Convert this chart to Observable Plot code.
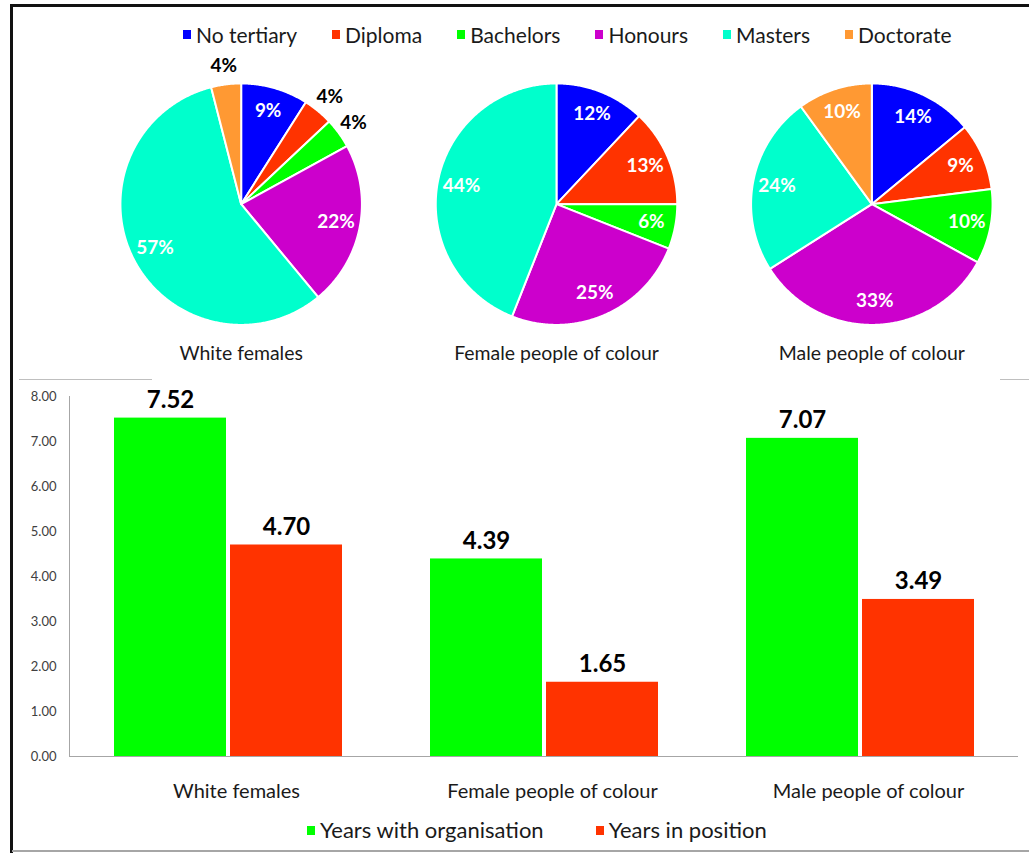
<!DOCTYPE html>
<html><head><meta charset="utf-8">
<script src="https://cdn.jsdelivr.net/npm/d3@7"></script>
<script src="https://cdn.jsdelivr.net/npm/@observablehq/plot@0.6"></script>
<style>
body{margin:0;background:#fff;font-family:Lato,"Open Sans",sans-serif;}
#wrap{position:relative;width:1029px;height:853px;overflow:hidden;background:#fff;}
.deco{position:absolute;}
.legend{position:absolute;display:flex;align-items:center;color:#1a1a1a;white-space:nowrap;line-height:1;}
.legend .item{display:flex;align-items:center;}
.legend .sw{display:inline-block;width:8px;height:9px;margin-right:5px;}
#pies,#bars{position:absolute;}
</style></head>
<body><div id="wrap">
<div class="deco" style="left:19px;top:379px;width:133px;height:1px;background:#bfbfbf"></div>
<div class="deco" style="left:1000px;top:379px;width:29px;height:1px;background:#bfbfbf"></div>
<div id="pies" style="left:83px;top:50px"></div>
<div id="bars" style="left:0px;top:380px"></div>
<div id="legTop" class="legend" style="left:183px;top:24px;font-size:21px"></div>
<div id="legBot" class="legend" style="left:307px;top:819px;font-size:22px"></div>
<div class="deco" style="left:10px;top:4px;width:1019px;height:3px;background:#111"></div>
<div class="deco" style="left:10px;top:4px;width:3px;height:849px;background:#111"></div>
<div class="deco" style="left:12px;top:850px;width:1017px;height:2px;background:#a6a6a6"></div>
</div>
<script>
// ---- data ----
const levels = ["No tertiary","Diploma","Bachelors","Honours","Masters","Doctorate"];
const levelColors = ["#0000FF","#FF3300","#00FF00","#CC00CC","#00FFCC","#FF9933"];
const groups = ["White females","Female people of colour","Male people of colour"];
const whiteFemales = [9,4,4,22,57,4];
const femalePOC = [12,13,6,25,44,0];
const malePOC = [14,9,10,33,24,10];
const series = ["Years with organisation","Years in position"];
const seriesColors = ["#00FF00","#FF3300"];
const yearsWithOrg = [7.52,4.39,7.07];
const yearsInPos = [4.70,1.65,3.49];
const yTicks = [0,1,2,3,4,5,6,7,8];

// ---- pies ----
const pieRows = [], pieLabels = [];
[whiteFemales, femalePOC, malePOC].forEach((vals, gi) => {
  const g = groups[gi];
  const arcs = d3.pie().sort(null).value(d => d)(vals);
  arcs.forEach((a, i) => {
    if (a.value <= 0) return;
    const k = levels[i], key = gi + "-" + i;
    const n = Math.max(2, Math.ceil((a.endAngle - a.startAngle) / (Math.PI / 360)));
    pieRows.push({g, k, key, x: 0, y: 0});
    for (let j = 0; j <= n; j++) {
      const t = a.startAngle + (a.endAngle - a.startAngle) * j / n;
      pieRows.push({g, k, key, x: Math.sin(t), y: Math.cos(t)});
    }
    pieRows.push({g, k, key, x: 0, y: 0});
    const m = (a.startAngle + a.endAngle) / 2;
    const out = a.value < 5;
    const r = out ? 1.15 : 0.8;
    pieLabels.push({g, x: r * Math.sin(m), y: r * Math.cos(m), text: a.value + "%", out});
  });
});

const R = 121, facetW = 316;
const pies = Plot.plot({
  width: facetW * 3, height: 320,
  marginLeft: 0, marginRight: 0, marginTop: 0, marginBottom: 30,
  style: {fontFamily: "Lato, 'Open Sans', sans-serif", fontSize: "19.5px", color: "#1a1a1a", background: "transparent"},
  fx: {domain: groups, padding: 0, label: null, tickSize: 0, tickPadding: 6, axis: "bottom"},
  x: {domain: [-facetW / 2 / R, facetW / 2 / R], axis: null},
  y: {domain: [-136 / R, 154 / R], axis: null},
  color: {domain: levels, range: levelColors},
  marks: [
    Plot.line(pieRows, {fx: "g", x: "x", y: "y", z: "key", fill: "k", stroke: "white", strokeWidth: 2, strokeLinejoin: "round", curve: "linear"}),
    Plot.text(pieLabels, {filter: d => !d.out, fx: "g", x: "x", y: "y", text: "text", fill: "white", fontWeight: "bold", fontSize: 19}),
    Plot.text(pieLabels, {filter: d => d.out, fx: "g", x: "x", y: "y", text: "text", fill: "black", fontWeight: "bold", fontSize: 19})
  ]
});
document.getElementById("pies").appendChild(pies);

// ---- bars ----
const barData = groups.map((g, i) => ({g, org: yearsWithOrg[i], pos: yearsInPos[i]}));
const bars = Plot.plot({
  width: 1029, height: 426,
  marginLeft: 69, marginRight: 11, marginTop: 16, marginBottom: 50,
  style: {fontFamily: "Lato, 'Open Sans', sans-serif", color: "#1a1a1a", background: "transparent"},
  x: {domain: groups, paddingInner: 0.28, paddingOuter: 0.14, axis: null},
  y: {domain: [0, 8], axis: null},
  marks: [
    Plot.frame({anchor: "left", stroke: "#a6a6a6"}),
    Plot.ruleY([0], {stroke: "#a6a6a6"}),
    Plot.barY(barData, {x: "g", y: "org", fill: seriesColors[0], insetRight: 116}),
    Plot.barY(barData, {x: "g", y: "pos", fill: seriesColors[1], insetLeft: 116}),
    Plot.text(barData, {x: "g", y: "org", text: d => d.org.toFixed(2), dx: -58, dy: -18, fontSize: 24, fontWeight: "bold", fill: "#000"}),
    Plot.text(barData, {x: "g", y: "pos", text: d => d.pos.toFixed(2), dx: 58, dy: -18, fontSize: 24, fontWeight: "bold", fill: "#000"}),
    Plot.axisY({ticks: yTicks, tickFormat: d3.format(".2f"), tickSize: 0, tickPadding: 13, fontSize: 13, fill: "#404040", label: null}),
    Plot.axisX({tickSize: 0, tickPadding: 27, fontSize: 20, fill: "#1a1a1a", label: null, dx: 8})
  ]
});
document.getElementById("bars").appendChild(bars);

// ---- legends ----
function legend(el, names, colors, gap) {
  names.forEach((n, i) => {
    const it = document.createElement("div");
    it.className = "item";
    if (i < names.length - 1) it.style.marginRight = gap + "px";
    it.innerHTML = `<span class="sw" style="background:${colors[i]}"></span><span>${n}</span>`;
    el.appendChild(it);
  });
}
legend(document.getElementById("legTop"), levels, levelColors, 35);
legend(document.getElementById("legBot"), series, seriesColors, 52);
</script>
</body></html>
